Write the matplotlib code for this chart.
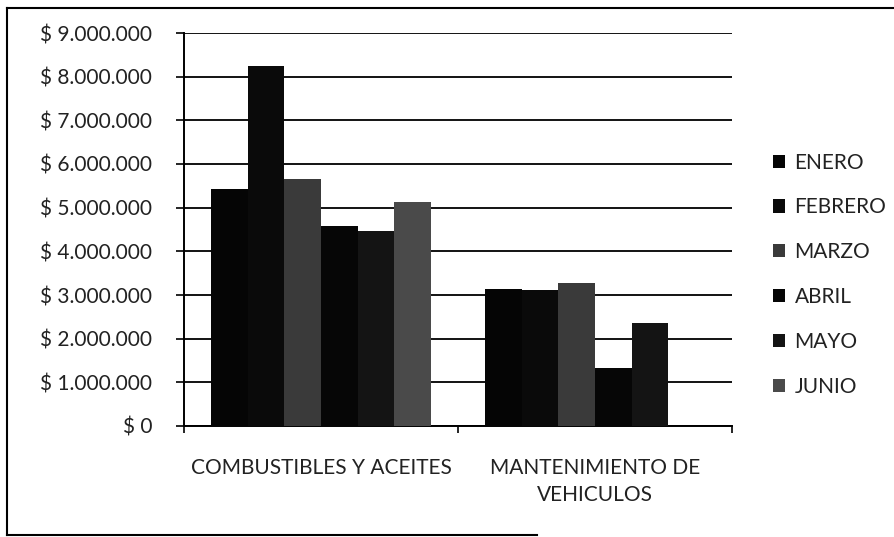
import matplotlib
matplotlib.use("Agg")
import matplotlib.pyplot as plt
from matplotlib.lines import Line2D
from matplotlib.ticker import FuncFormatter, FixedLocator
import numpy as np

plt.rcParams['font.family'] = ['Lato', 'DejaVu Sans']

categories = ["COMBUSTIBLES Y ACEITES", "MANTENIMIENTO DE\nVEHICULOS"]
months = ["ENERO", "FEBRERO", "MARZO", "ABRIL", "MAYO", "JUNIO"]
values = {
    "ENERO":   [5420000, 3140000],
    "FEBRERO": [8250000, 3120000],
    "MARZO":   [5650000, 3280000],
    "ABRIL":   [4580000, 1320000],
    "MAYO":    [4470000, 2350000],
    "JUNIO":   [5130000, 0],
}
yticks = [0, 1000000, 2000000, 3000000, 4000000, 5000000, 6000000, 7000000, 8000000, 9000000]

colors = {
    "ENERO": "#050505",
    "FEBRERO": "#0a0a0a",
    "MARZO": "#3a3a3a",
    "ABRIL": "#060606",
    "MAYO": "#141414",
    "JUNIO": "#4a4a4a",
}

FS = 15
W, H = 895, 537
fig = plt.figure(figsize=(W / 100, H / 100), dpi=100)
ax = fig.add_axes([184 / W, 1 - 426 / H, (732 - 184) / W, (426 - 33) / H])

x = np.arange(len(categories))
bw = 0.1337
for i, m in enumerate(months):
    ax.bar(x + (i - 2.5) * bw, values[m], width=bw, color=colors[m],
           edgecolor="none", label=m, zorder=3)

ax.set_xlim(-0.5, 1.5)
ax.set_ylim(0, 9000000)
ax.yaxis.set_major_locator(FixedLocator(yticks))


def fmt(v, pos):
    if v == 0:
        return "$ 0"
    return "$ " + f"{int(v):,}".replace(",", ".")


ax.yaxis.set_major_formatter(FuncFormatter(fmt))
ax.grid(axis="y", color="black", linewidth=1.3, zorder=1)
ax.set_axisbelow(True)

ax.set_xticks(x)
ax.set_xticklabels(categories, fontsize=FS, color="#222222", linespacing=1.45)
ax.set_xticks([-0.5, 0.5, 1.5], minor=True)
ax.tick_params(axis="x", which="major", length=0, pad=23)
ax.tick_params(axis="x", which="minor", length=5, width=1.2, color="black", direction="out")
ax.tick_params(axis="y", length=6, width=1.2, color="black", pad=17,
               labelsize=FS, labelcolor="#222222")
for lab in ax.get_xticklabels():
    lab.set_verticalalignment("top")

for s in ["top", "right"]:
    ax.spines[s].set_visible(False)
ax.spines["left"].set_linewidth(1.4)
ax.spines["bottom"].set_linewidth(1.4)

leg = fig.legend(loc="upper left", bbox_to_anchor=(758 / W, 1 - 138 / H),
                 frameon=False, fontsize=FS, handlelength=0.6, handleheight=0.6,
                 handletextpad=0.45, labelspacing=1.19, labelcolor="#222222",
                 borderpad=0.2)

# outer chart border
fig.add_artist(Line2D([7 / W, 7 / W], [1 - 535 / H, 1 - 8 / H], transform=fig.transFigure,
                      color="black", linewidth=1.5))
fig.add_artist(Line2D([7 / W, 1.0], [1 - 8 / H, 1 - 8 / H], transform=fig.transFigure,
                      color="black", linewidth=1.5))
fig.add_artist(Line2D([7 / W, 0.6], [1 - 535 / H, 1 - 535 / H], transform=fig.transFigure,
                      color="black", linewidth=1.5))

fig.savefig("out.png", dpi=100)
